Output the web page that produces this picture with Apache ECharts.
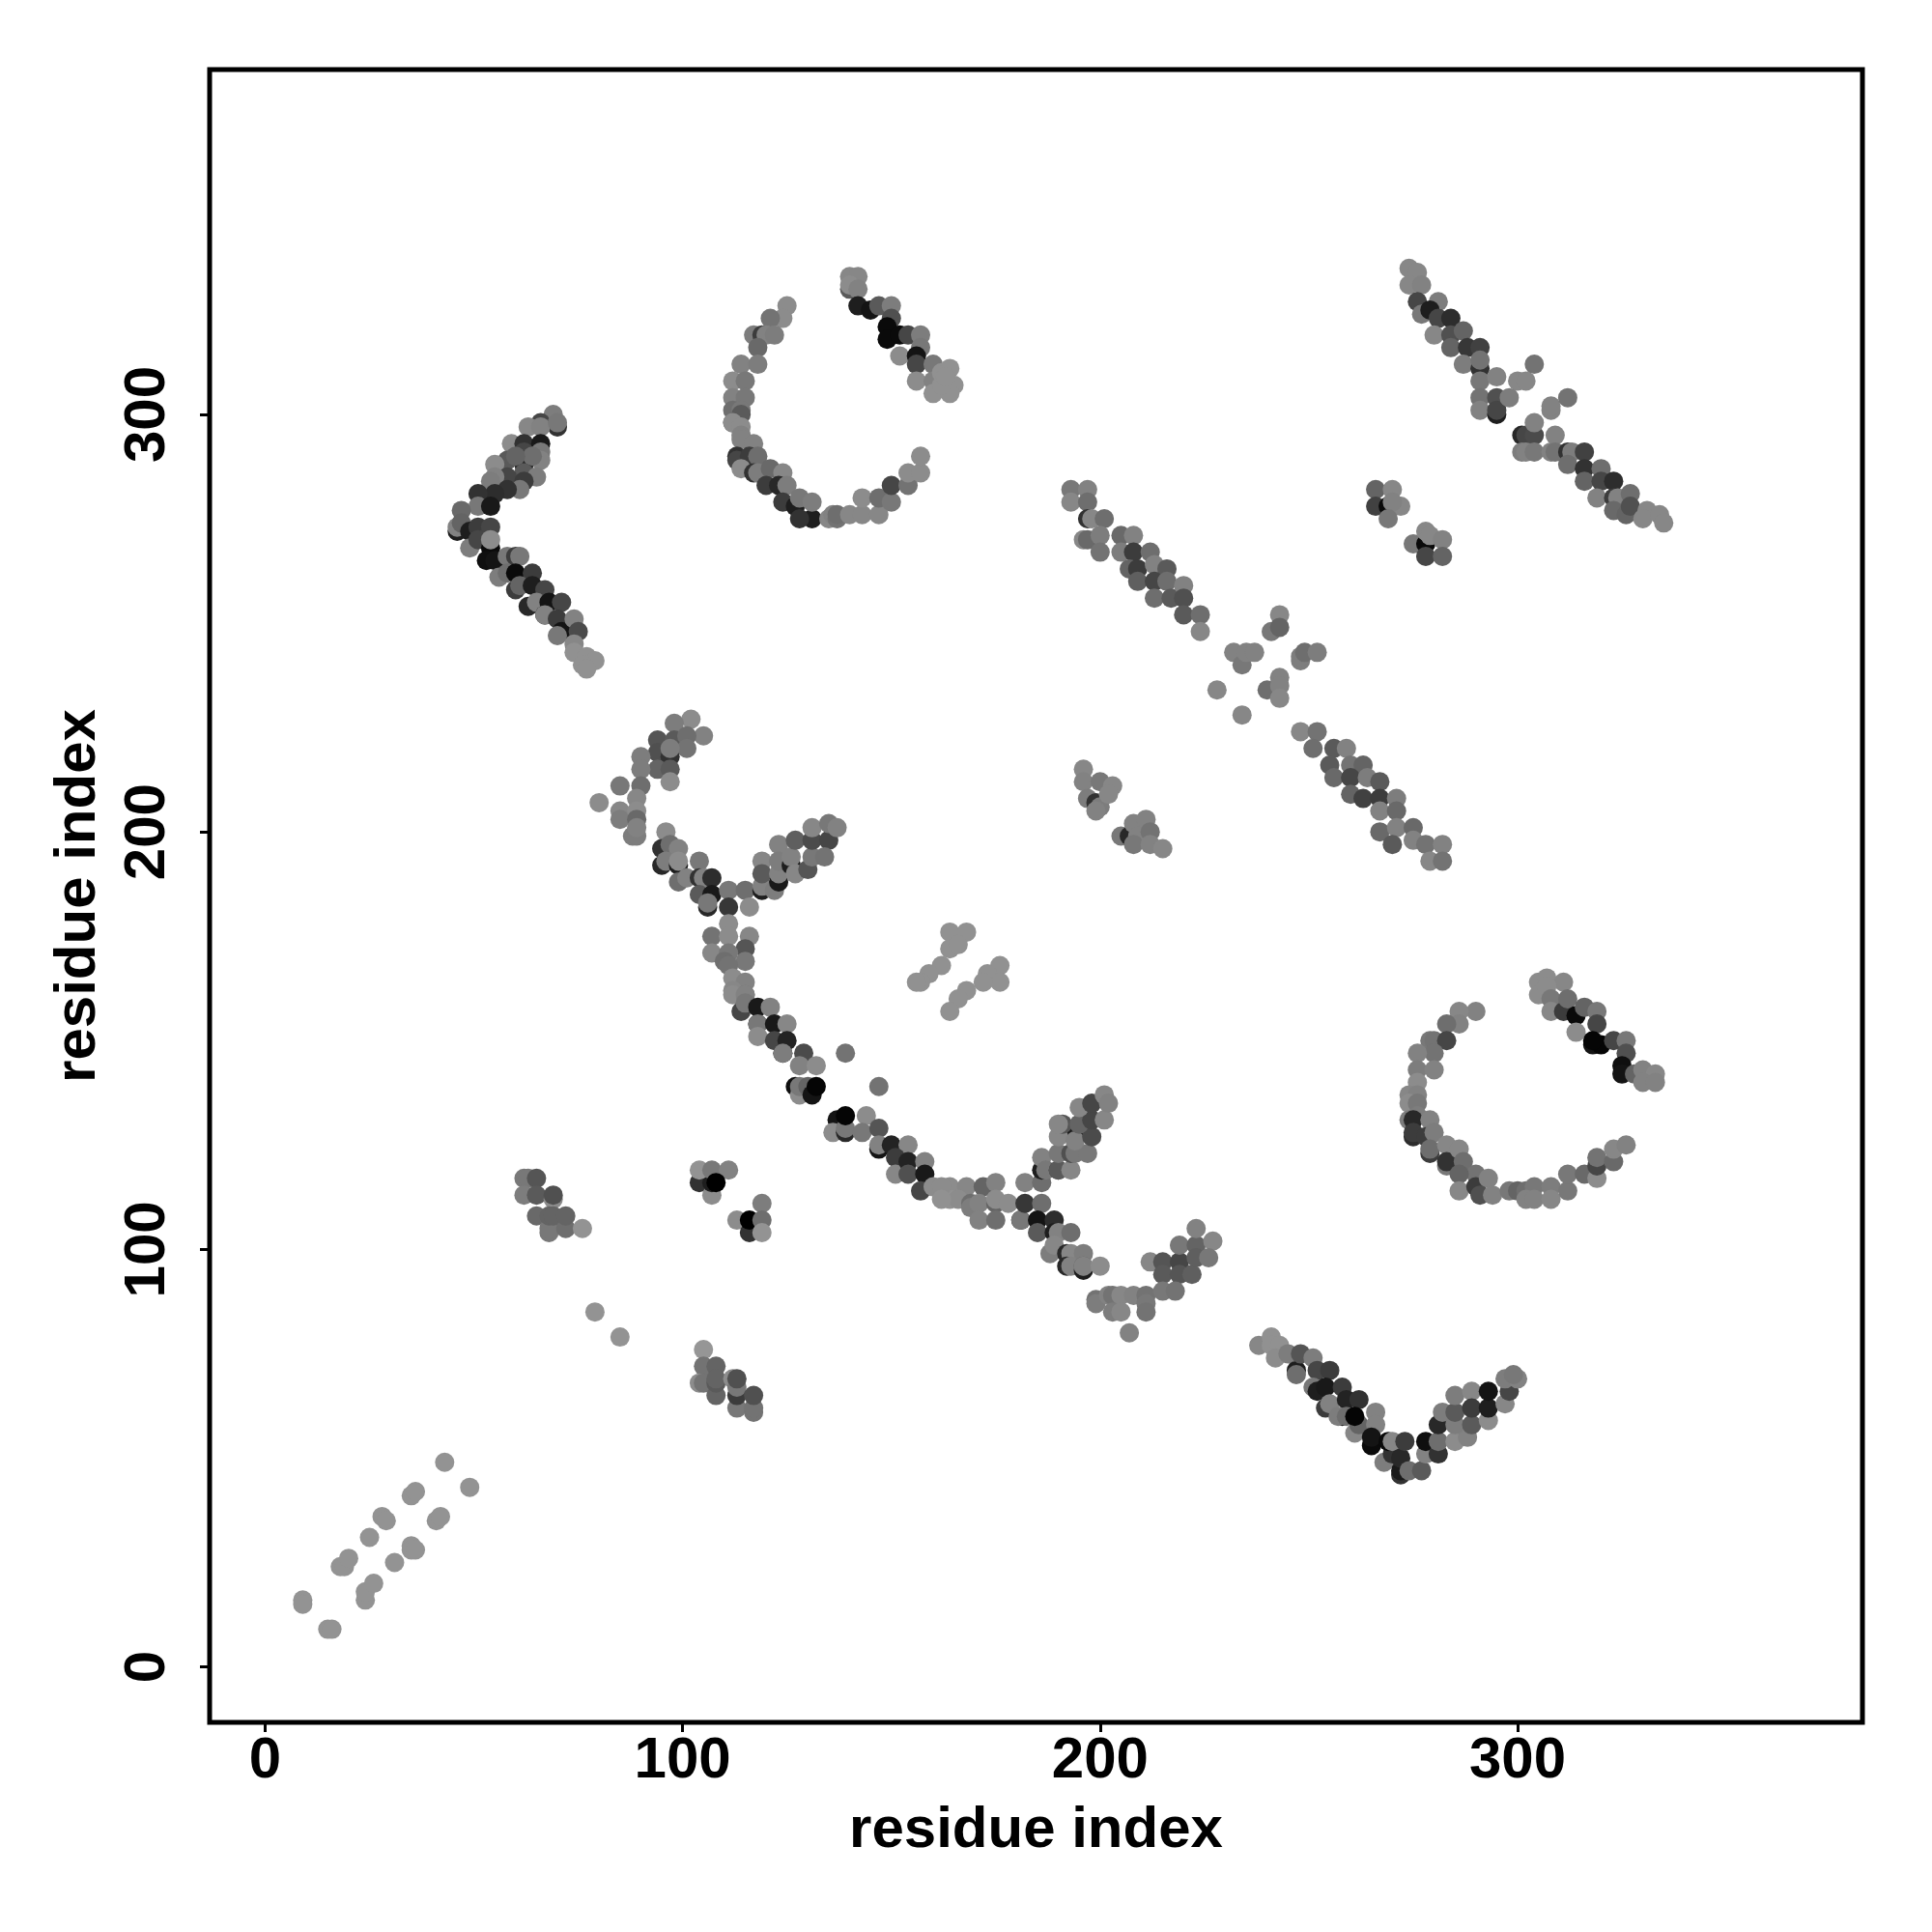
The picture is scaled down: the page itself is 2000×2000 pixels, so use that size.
<!DOCTYPE html>
<html><head><meta charset="utf-8">
<style>html,body{margin:0;padding:0;background:#fff}#c{width:2000px;height:2000px}</style>
<script src="https://cdn.jsdelivr.net/npm/echarts@6/dist/echarts.min.js"></script>
</head><body><div id="c"></div>
<script>
const tickValues=[0,100,200,300];
const axisTitle="residue index";
// each point: [residue i, residue j, grey level]
const strandStart=[[9,16,147],[9,15,147],[15,9,147],[16,9,147],[18,24,147],[19,24,147],[20,26,147],[25,31,147],[24,16,147],[24,18,147],[26,20,147],[31,25,147],[35,29,147],[35,28,147],[36,28,147],[28,36,147],[29,35,147],[35,41,147],[36,42,147],[41,35,147],[42,36,147],[43,49,147],[49,43,147],[79,85,147],[85,79,147]];
const patchA=[[62,117,120],[63,117,120],[65,117,85],[62,113,125],[65,113,90],[69,112,140],[69,113,80],[65,108,105],[68,104,120],[68,105,120],[68,108,100],[69,108,100],[72,105,110],[72,108,100],[76,105,147]];
const patchB=[[104,116,50],[107,113,140],[107,116,30],[104,119,147],[107,119,120],[111,119,130],[108,116,0],[113,107,140],[116,104,50],[116,107,0],[119,111,125],[119,107,110],[119,104,147]];
const patchC=[[105,76,150],[105,72,115],[108,72,100],[104,68,140],[105,68,115],[108,65,100],[108,68,90],[108,69,100],[112,69,140],[113,62,120],[113,65,60],[113,67,120],[113,69,80],[117,61,115],[117,62,115],[117,65,80]];
const elbowA=[[69,300,125],[70,297,50],[66,298,70],[63,297,135],[66,297,130],[70,298,120],[59,293,140],[62,293,50],[66,293,25],[62,291,70],[66,291,120],[66,289,130],[62,288,40],[58,289,90],[64,290,110],[60,290,100],[55,288,140],[62,286,90],[65,285,125],[58,285,70],[55,285,130],[54,284,125],[62,284,60],[61,282,120],[58,282,50],[55,281,45],[51,281,50],[51,278,120],[54,278,25],[47,277,105],[46,272,30],[46,273,130],[47,274,100],[49,272,30],[51,273,60],[54,273,70],[49,268,125],[51,270,70],[54,268,10],[54,270,140],[53,265,15],[55,265,20],[58,266,120],[60,266,60],[61,266,120],[56,261,125],[58,262,110],[60,262,10],[64,262,60],[60,258,60],[61,259,100],[64,259,30],[67,258,70],[63,254,40],[65,255,130],[67,252,20],[68,255,20],[71,255,70],[67,252,130],[70,251,60],[71,248,20],[70,247,120],[74,251,130],[75,248,75],[74,245,135],[74,243,145],[77,242,145],[79,241,145],[76,240,145],[77,239,145]];
const ringA=[[125,326,140],[124,323,140],[121,323,115],[117,319,125],[119,319,60],[120,319,130],[122,319,125],[118,316,105],[114,312,130],[118,312,125],[112,308,140],[115,308,120],[112,304,130],[115,304,120],[112,298,90],[112,301,110],[114,301,120],[114,300,90],[112,298,140],[114,297,140],[114,295,130],[114,294,130],[117,293,130],[113,290,50],[113,289,70],[116,290,60],[114,287,140],[118,290,110],[117,286,50],[118,286,125],[121,287,105],[120,283,60],[124,286,135],[123,283,40],[125,283,125],[124,279,60],[127,278,30],[128,280,120],[131,275,30],[131,279,125],[128,275,50],[135,275,135],[136,276,130],[137,275,115],[137,276,110],[140,276,135],[143,276,135],[143,280,140],[147,276,135],[147,280,110],[150,279,120],[150,283,70],[154,283,115],[154,286,140],[157,286,140],[157,290,140]];
const ringATop=[[140,330,90],[140,333,135],[142,333,135],[140,331,140],[142,330,130],[142,326,30],[145,325,20],[147,326,90],[150,326,125],[150,323,80],[149,321,10],[149,318,10],[152,319,10],[152,314,140],[154,319,70],[157,319,125],[157,316,120],[156,314,20],[156,312,70],[156,308,140],[160,312,120],[160,308,130],[162,310,145],[164,311,145],[165,307,145],[160,305,145],[164,305,145],[162,307,145],[163,309,145]];
const forkTop=[[102,227,140],[98,226,125],[105,223,130],[94,222,85],[98,222,90],[101,223,110],[101,220,115],[94,219,80],[90,218,125],[97,218,50],[97,220,125],[94,215,100],[90,215,125],[97,215,90],[97,212,140],[90,211,110],[85,211,120],[89,208,135],[80,207,140],[85,205,135],[85,203,125],[89,205,140],[89,203,105],[88,199,125],[89,199,125],[89,201,130]];
const forkMid=[[96,200,140],[95,196,50],[97,197,110],[99,196,130],[95,192,40],[96,193,125],[99,192,30],[99,193,140],[99,188,110],[101,189,130],[104,193,120],[104,189,50],[105,189,130],[107,189,45],[104,185,90],[107,185,25],[106,182,40],[106,183,120],[111,186,120],[111,182,55],[115,186,110],[116,182,140],[119,193,135],[119,186,30],[119,187,130],[119,190,90],[122,186,125],[123,188,25],[123,190,130],[123,197,130],[123,193,125],[126,192,30],[126,194,130],[127,198,95],[127,190,135],[130,191,85],[131,194,120],[131,198,75],[131,201,135],[135,198,70],[134,194,115],[135,202,120],[137,201,130]];
const stemDown=[[111,178,140],[107,175,115],[111,175,140],[116,175,135],[107,171,135],[115,172,85],[111,171,120],[110,169,110],[115,169,120],[111,168,115],[112,165,140],[115,164,130],[112,162,135],[115,161,120],[112,161,140],[115,161,130],[114,157,70],[115,159,120],[118,158,25],[121,158,130]];
const longArc=[[118,154,20],[118,154,120],[118,151,140],[122,154,25],[125,154,135],[122,150,70],[125,150,35],[124,147,20],[124,147,125],[129,147,75],[128,144,130],[132,144,140],[127,139,15],[128,137,140],[128,139,120],[130,139,100],[131,137,20],[132,139,5],[139,147,115],[147,139,115],[137,131,20],[136,128,140],[139,128,40],[139,129,120],[139,132,5],[144,132,140],[143,128,120],[147,129,85],[147,124,20],[147,125,130],[150,125,35],[154,125,135],[151,122,60],[151,118,135],[154,121,35],[154,118,80],[158,121,130],[158,118,25],[157,114,70],[160,115,140]];
const plateau=[[164,115,140],[164,112,145],[168,115,135],[166,112,140],[162,115,140],[162,112,145],[169,111,110],[169,110,125],[172,115,100],[171,111,130],[171,107,130],[175,111,100],[175,116,130],[175,112,140],[175,107,110],[178,111,140]];
const forkB=[[181,107,30],[181,107,120],[182,116,130],[186,116,110],[182,111,55],[186,111,110],[185,107,20],[185,104,90],[189,107,45],[189,104,30],[190,104,130],[193,104,110],[188,99,125],[189,101,135],[192,99,40],[193,99,135],[196,99,125],[192,96,40],[193,96,130],[196,95,30],[196,96,90],[196,96,130],[200,96,140]];
const forkBArm=[[186,119,30],[186,122,130],[187,119,120],[190,119,60],[190,119,90],[193,119,135],[190,123,120],[194,127,30],[190,127,135],[193,123,80],[194,123,120],[197,123,120],[194,126,130],[198,127,75],[191,130,85],[190,130,135],[195,130,100],[198,131,70],[201,131,135],[195,134,135],[198,135,70],[201,137,135],[202,135,130]];
const tail=[[212,97,135],[215,97,85],[219,97,70],[215,94,90],[219,94,85],[222,94,95],[219,101,120],[223,101,100],[223,98,95],[223,105,130],[227,102,135],[226,98,120],[199,88,115],[199,87,125],[202,89,130],[203,89,115],[205,89,135],[208,89,130],[211,89,115],[211,87,120],[215,90,120],[218,90,115],[203,85,125],[205,85,135],[211,85,115],[207,80,130]];
const butterfly=[[164,176,145],[168,176,145],[164,172,145],[166,173,145],[162,168,145],[159,166,145],[157,164,145],[156,164,145],[176,168,145],[173,166,145],[176,164,145],[172,164,145],[168,162,145],[166,160,145],[164,157,145]];
const vShape=[[238,77,135],[241,79,145],[241,77,145],[243,77,145],[242,74,140],[245,75,125],[247,71,30],[247,70,110],[248,75,85],[251,74,125],[252,71,70],[255,71,60],[251,67,120],[252,66,30],[254,67,25],[258,67,60],[254,62,60],[255,63,130],[259,64,35],[262,64,50],[258,60,25],[257,60,125],[259,60,110],[261,56,135],[262,58,100],[261,60,5],[266,61,130],[266,58,130],[265,53,10],[265,55,20],[268,49,125],[270,51,50],[269,54,10],[270,54,135],[272,46,50],[272,47,25],[272,50,40],[273,54,60],[274,47,110],[277,47,90],[278,51,130],[278,54,15],[281,51,50],[281,54,110],[281,58,40],[282,61,125],[285,54,140],[288,55,130],[285,58,125],[285,61,90],[289,58,90],[285,65,125],[289,66,135],[289,62,60],[293,59,140],[293,62,30],[293,66,20],[297,63,135],[298,66,70],[297,69,125],[300,69,130],[299,70,120]];
const ringB=[[290,157,130],[286,157,135],[286,154,130],[283,154,110],[279,150,120],[280,150,115],[283,150,70],[280,147,115],[276,147,130],[276,143,125],[280,143,130],[276,140,140],[274,137,135],[276,137,130],[274,135,140],[276,135,120],[276,132,125],[274,131,125],[275,131,40],[275,127,45],[275,128,60],[279,131,130],[278,127,60],[280,128,125],[279,123,60],[279,124,110],[283,125,135],[283,120,120],[283,121,50],[286,124,135],[287,121,110],[290,118,115],[286,118,100],[286,114,135],[290,115,60],[293,117,130],[291,113,80],[294,113,130],[298,114,120],[300,114,100],[302,114,110],[304,115,120],[302,112,130],[304,112,130],[308,115,125],[308,112,135],[312,114,120],[312,118,120],[316,118,105],[319,117,140],[319,120,70],[319,122,115],[323,121,105],[323,124,135],[326,125,130]];
const ringBTop=[[305,164,140],[307,165,140],[311,164,135],[305,161,140],[307,163,140],[308,160,120],[308,157,135],[311,157,60],[312,160,110],[314,156,10],[316,158,100],[319,157,120],[319,154,70],[314,152,140],[318,149,20],[320,149,5],[318,150,5],[323,150,70],[326,150,120],[326,147,80],[325,144,15],[325,142,20],[328,142,100],[330,143,130],[333,142,135],[330,140,130],[333,140,130]];
const diagA=[[193,282,120],[197,282,130],[193,279,135],[197,279,110],[197,275,50],[198,275,135],[201,275,110],[196,270,135],[197,270,105],[200,271,125],[200,267,115],[205,271,105],[208,271,130],[205,267,125],[208,267,60],[212,267,110],[207,263,100],[209,263,60],[209,260,95],[213,264,130],[216,263,90],[213,260,70],[216,260,110],[213,256,110],[217,256,90],[220,259,130],[220,256,80],[220,252,90],[224,252,110],[224,248,135]];
const cross=[[243,252,135],[241,248,120],[243,249,100],[232,243,130],[234,240,120],[235,243,130],[237,243,130],[248,241,125],[248,242,125],[249,243,110],[252,243,125],[240,234,110],[243,237,130],[243,235,130],[243,232,135],[228,234,135],[234,228,135]];
const diagB=[[248,224,135],[252,224,115],[251,220,110],[256,220,90],[259,220,130],[255,216,90],[256,213,105],[260,216,115],[263,216,100],[260,213,70],[264,213,125],[267,212,90],[260,209,100],[263,208,65],[267,208,60],[271,208,125],[267,205,130],[271,205,105],[267,200,105],[271,201,130],[275,201,105],[270,197,90],[275,198,130],[278,197,115],[282,197,130],[279,193,135],[282,193,115]];
const patchD=[[196,215,135],[196,212,130],[200,212,120],[203,211,135],[197,208,125],[199,207,50],[200,206,125],[202,209,135],[199,205,130],[205,199,120],[207,199,40],[208,202,130],[209,199,130],[211,203,130],[212,200,115],[208,197,120],[212,197,130],[215,196,135]];
const patchE=[[266,282,100],[270,282,135],[266,278,65],[269,278,10],[272,278,135],[270,279,130],[269,275,120],[275,269,120],[278,269,10],[278,272,135],[279,271,135],[282,270,130],[278,266,70],[282,266,100]];
const diagC=[[274,335,135],[276,334,135],[274,331,135],[277,331,130],[276,327,70],[277,324,120],[281,327,125],[279,325,30],[281,323,70],[284,323,45],[280,319,135],[284,319,80],[287,320,100],[284,316,100],[288,316,55],[291,316,65],[287,312,125],[291,311,50],[291,313,115],[291,308,120],[295,309,130],[300,308,135],[302,308,135],[304,312,115],[291,304,115],[291,301,130],[295,300,30],[295,304,80],[295,301,70],[298,304,125],[308,301,130],[308,302,130],[312,304,115],[301,295,40],[302,295,70],[304,295,75],[304,298,130],[309,295,130],[301,291,125],[302,291,130],[304,291,120],[308,291,130],[309,291,115],[312,291,50],[313,291,125],[316,291,65],[312,288,110],[316,287,50],[316,284,100],[320,287,110],[320,284,70],[323,284,45],[319,280,130],[323,280,60],[324,280,130],[323,277,105],[326,276,100],[327,281,110],[327,278,80],[331,277,135],[330,275,135],[334,276,135],[335,274,135]];

const points=[].concat(strandStart,patchA,patchB,patchC,elbowA,ringA,ringATop,forkTop,forkMid,stemDown,longArc,plateau,forkB,forkBArm,tail,butterfly,vShape,ringB,ringBTop,diagA,cross,diagB,patchD,patchE,diagC);
const font='"Liberation Sans",Arial,sans-serif';
const chart=echarts.init(document.getElementById('c'),null,{renderer:'canvas'});
const axisBase=(nameGap,labelMargin,rotate)=>({
  type:'value',min:-13.3,max:382.6,name:axisTitle,nameLocation:'middle',nameGap,
  nameTextStyle:{fontFamily:font,fontWeight:'bold',fontSize:60,color:'#000'},
  axisLine:{show:false,onZero:false},splitLine:{show:false},
  axisTick:{show:true,length:10,customValues:tickValues,lineStyle:{color:'#000',width:3}},
  axisLabel:{show:true,customValues:tickValues,margin:labelMargin,rotate,hideOverlap:false,showMinLabel:true,showMaxLabel:true,
    fontFamily:font,fontWeight:'bold',fontSize:60,color:'#000'}
});
chart.setOption({
  animation:false,backgroundColor:'#fff',
  grid:{left:217,top:72,width:1711,height:1711,show:true,borderColor:'#000',borderWidth:5,backgroundColor:'transparent',containLabel:false},
  xAxis:axisBase(82,10,0),
  yAxis:axisBase(106,34,90),
  series:[{type:'scatter',data:points,symbol:'circle',symbolSize:20,silent:true,large:false,
    itemStyle:{opacity:1,color:p=>{const g=p.value[2];return `rgb(${g},${g},${g})`;}}}]
});
</script></body></html>
